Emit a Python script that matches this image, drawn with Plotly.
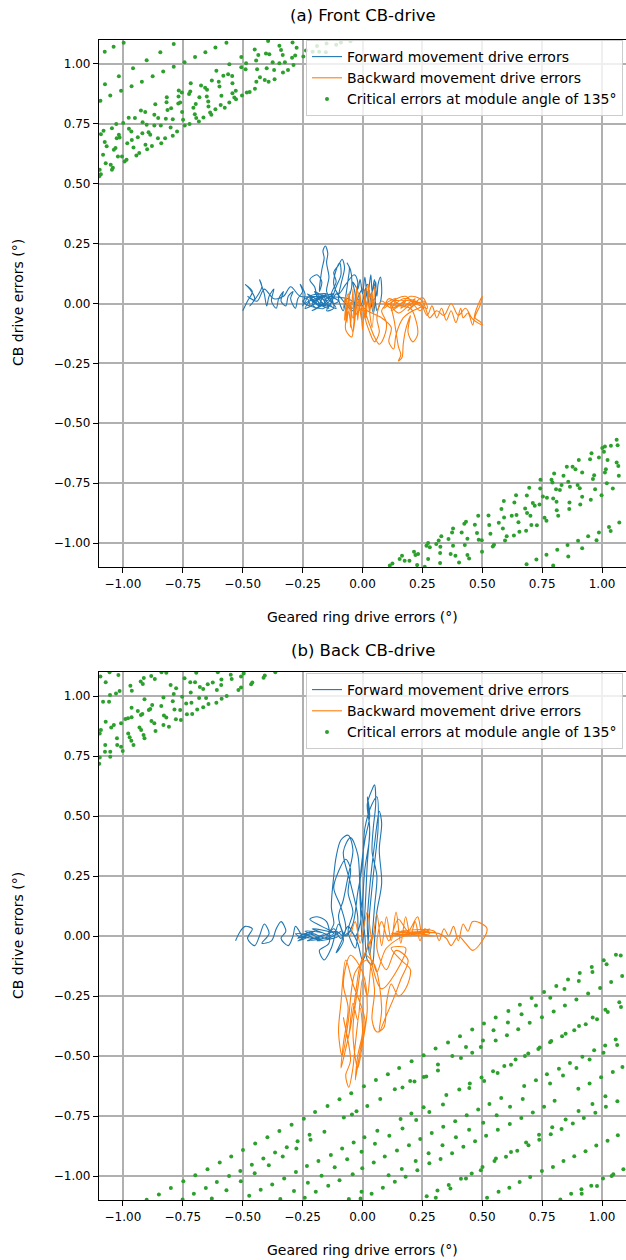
import plotly.graph_objects as go

# ---------------- data ----------------
ticks = [-1.0, -0.75, -0.5, -0.25, 0.0, 0.25, 0.5, 0.75, 1.0]
tick_text = ["\u22121.00", "\u22120.75", "\u22120.50", "\u22120.25", "0.00", "0.25", "0.50", "0.75", "1.00"]

blue_a = [(-0.50,-0.03),(-0.48,0.01),(-0.46,0.05),(-0.49,0.08),(-0.47,0.06),(-0.45,0.02),(-0.47,-0.01),(-0.44,0.03),(-0.42,0.07),(-0.43,0.10),(-0.41,0.04),(-0.40,-0.01),(-0.39,0.03),(-0.37,0.06),(-0.38,0.01),(-0.36,-0.02),(-0.35,0.02),(-0.33,0.05),(-0.34,0.01),(-0.32,-0.01),(-0.31,0.03),(-0.29,0.05),(-0.30,0.02),(-0.28,-0.02),(-0.27,0.02),(-0.25,0.05),(-0.26,0.08),(-0.24,0.04),(-0.25,-0.01),(-0.23,0.02),
(-0.22,-0.01),(-0.25,0.01),(-0.21,0.03),(-0.24,-0.02),(-0.19,0.01),(-0.23,0.04),(-0.18,-0.01),(-0.22,0.02),(-0.17,0.03),(-0.24,0.00),(-0.16,-0.02),(-0.20,0.05),(-0.15,0.01),(-0.21,-0.03),(-0.14,0.02),(-0.19,0.04),(-0.13,-0.01),(-0.18,0.00),(-0.20,0.07),(-0.22,0.10),(-0.19,0.12),(-0.17,0.09),(-0.18,0.05),
(-0.17,0.14),(-0.16,0.19),(-0.165,0.22),(-0.155,0.24),(-0.145,0.21),(-0.15,0.17),(-0.14,0.11),(-0.15,0.05),(-0.13,0.01),(-0.15,-0.03),(-0.12,-0.02),(-0.13,0.04),(-0.11,0.09),(-0.12,0.13),(-0.10,0.16),(-0.085,0.185),(-0.075,0.15),(-0.09,0.08),(-0.10,0.02),(-0.08,-0.03),(-0.07,0.03),(-0.06,0.10),(-0.055,0.15),(-0.065,0.17),(-0.05,0.14),(-0.045,0.07),(-0.06,0.00),(-0.04,-0.02),(-0.03,0.03),(-0.04,0.09),(-0.02,0.06),
(-0.01,0.10),(0.00,0.04),(0.01,0.11),(0.02,0.02),(0.03,0.09),(0.035,0.12),(0.04,0.05),(0.05,0.10),(0.06,0.03),(0.065,0.08),(0.075,0.11),(0.08,0.04),(0.07,-0.01),(0.06,-0.03),(0.05,0.02),(0.03,-0.02),(0.02,0.05),(0.00,-0.01),(-0.02,0.02),(-0.04,-0.03),(-0.08,0.01),(-0.11,0.04),(-0.14,-0.01),(-0.17,0.02),(-0.21,0.00),(-0.19,-0.02),(-0.16,0.03),(-0.12,0.00),
(-0.10,0.01),(-0.14,0.03),(-0.11,-0.02),(-0.16,0.01),(-0.12,0.04),(-0.18,0.02),(-0.14,-0.02),(-0.20,0.01),(-0.15,0.04),(-0.22,0.03),(-0.17,-0.01),(-0.13,0.02),(-0.11,0.07),(-0.09,0.12),(-0.095,0.17),(-0.11,0.14),(-0.12,0.08),(-0.10,0.04),(-0.07,0.08),(-0.035,0.12),(-0.02,0.09),(-0.03,0.00),(0.00,0.06),(0.03,0.03),(0.055,0.09),(0.045,-0.04),(0.02,0.08),(-0.01,-0.01),(-0.06,0.02),(-0.19,0.03),(-0.26,0.03),(-0.30,0.07),(-0.33,0.03),(-0.37,0.02),(-0.41,0.06),(-0.44,0.01),(-0.48,0.03)]

orange_a = [(-0.08,-0.02),(-0.07,0.03),(-0.065,-0.08),(-0.055,0.05),(-0.05,-0.10),(-0.04,0.06),(-0.035,-0.09),(-0.025,0.07),(-0.02,-0.07),(-0.01,0.04),(0.00,-0.11),(0.01,0.06),(0.015,-0.06),(0.025,0.08),(0.03,-0.04),(0.04,0.05),(0.045,-0.03),(0.05,0.07),(0.04,-0.10),(0.02,0.01),(0.00,-0.08),(-0.02,0.02),(-0.04,-0.12),(-0.06,-0.03),(-0.07,-0.11),(-0.045,-0.14),(-0.03,-0.05),
(0.00,-0.02),(0.03,-0.09),(0.05,-0.14),(0.07,-0.17),(0.09,-0.14),(0.10,-0.08),(0.08,-0.03),(0.11,0.00),(0.13,-0.06),(0.14,-0.12),(0.15,-0.18),(0.16,-0.215),(0.15,-0.24),(0.165,-0.225),(0.17,-0.17),(0.18,-0.11),(0.20,-0.05),(0.19,-0.12),(0.21,-0.16),(0.23,-0.13),(0.22,-0.06),(0.20,-0.02),
(0.10,0.00),(0.14,0.02),(0.12,-0.03),(0.18,0.01),(0.16,-0.02),(0.22,0.02),(0.20,-0.01),(0.26,0.01),(0.24,-0.03),(0.18,0.03),(0.12,0.00),(0.15,-0.04),(0.21,0.00),(0.27,-0.02),(0.25,0.025),(0.19,-0.03),(0.23,0.01),(0.17,-0.01),(0.11,0.02),(0.09,-0.02),(0.13,0.01),(0.24,0.00),
(0.27,-0.05),(0.29,-0.01),(0.31,-0.06),(0.33,-0.02),(0.35,-0.07),(0.37,-0.03),(0.39,-0.08),(0.41,-0.02),(0.42,-0.06),(0.44,-0.04),(0.46,-0.09),(0.47,-0.04),(0.485,0.00),(0.50,0.03),(0.49,-0.01),(0.47,-0.06),(0.49,-0.075),(0.50,-0.09),(0.46,-0.065),(0.43,-0.02),(0.40,-0.05),(0.37,0.00),(0.34,-0.05),(0.31,-0.03),(0.28,-0.06),(0.26,-0.01),
(0.24,0.02),(0.20,0.03),(0.16,0.00),(0.12,-0.02),(0.08,0.01),(0.06,-0.06),(0.07,-0.12),(0.05,-0.16),(0.03,-0.12),(0.01,-0.05),(0.03,0.04),(0.045,-0.02),(0.02,0.07),(0.00,-0.03),(-0.02,0.05),(-0.04,-0.06),(-0.06,0.04),(-0.075,-0.07),(-0.06,-0.01),(-0.03,0.01),(0.02,-0.03),(0.08,-0.06),(0.12,-0.10),(0.11,-0.16),(0.13,-0.19),(0.14,-0.13),(0.17,-0.06),(0.21,-0.03),(0.25,-0.01),(0.22,0.01),(0.17,0.02),(0.13,-0.01)]

green_a = [(-0.997,1.089),(-1.039,1.072),(-1.076,1.051),(-0.788,1.083),(-0.844,1.049),(-0.901,1.015),(-0.958,0.982),(-1.017,0.949),(-1.075,0.915),(-1.008,0.888),(-1.053,0.868),(-1.094,0.846),(-0.921,0.926),(-0.964,0.907),(-0.876,0.949),(-0.832,0.968),(-0.788,0.988),(-0.743,1.007),(-0.699,1.029),(-0.656,1.049),(-0.614,1.069),(-0.568,1.089),
(-0.394,1.096),(-0.347,1.076),(-0.340,1.058),(-0.333,1.037),(-0.292,1.090),(-0.275,1.068),(-0.281,1.035),(-0.294,1.026),(-0.288,0.996),(-0.324,1.007),(-0.347,1.003),(-0.375,1.007),(-0.389,1.040),(-0.403,1.044),(-0.435,1.037),(-0.444,1.014),(-0.450,1.060),(-0.486,1.003),(-0.506,0.986),(-0.506,1.029),(-0.488,0.978),(-0.440,0.978),(-0.400,0.982),(-0.369,0.975),(-0.332,0.964),(-0.311,0.975),(-0.367,0.936),(-0.392,0.926),(-0.408,0.933),(-0.428,0.944),(-0.443,0.926),(-0.449,0.896),(-0.471,0.883),(-0.483,0.881),(-0.503,0.868),(-0.528,0.853),(-0.535,0.860),(-0.543,0.878),(-0.529,0.888),(-0.543,0.919),(-0.544,0.950),(-0.561,0.957),(-0.556,0.999),(-0.581,0.951),(-0.600,0.926),(-0.610,0.972),(-0.629,0.931),(-0.597,0.906),(-0.589,0.867),(-0.592,0.829),(-0.575,0.817),(-0.556,0.839),(-0.614,0.811),(-0.636,0.797),(-0.631,0.788),(-0.643,0.822),(-0.644,0.843),(-0.650,0.864),(-0.649,0.892),(-0.657,0.901),(-0.674,0.910),(-0.681,0.861),(-0.696,0.833),(-0.706,0.817),(-0.700,0.790),(-0.719,0.885),(-0.724,0.875),(-0.717,0.919),(-0.754,0.881),(-0.767,0.889),(-0.768,0.864),(-0.761,0.839),(-0.753,0.799),(-0.749,0.767),(-0.742,0.743),(-0.722,0.749),(-0.694,0.774),(-0.683,0.760),(-0.664,0.776),(-0.769,0.835),(-0.799,0.815),(-0.792,0.769),(-0.817,0.861),(-0.818,0.840),(-0.814,0.808),(-0.821,0.771),(-0.801,0.735),(-0.792,0.700),(-0.774,0.718),(-0.865,0.832),(-0.869,0.788),(-0.853,0.774),(-0.907,0.799),(-0.925,0.806),(-0.918,0.757),(-0.901,0.746),(-0.869,0.743),(-0.842,0.743),(-0.886,0.704),(-0.854,0.690),(-0.824,0.690),(-0.840,0.669),(-0.893,0.715),(-0.919,0.711),(-0.938,0.694),(-0.950,0.774),(-0.976,0.775),(-0.999,0.753),(-1.028,0.749),(-1.046,0.732),(-1.081,0.721),(-1.092,0.707),(-1.014,0.693),(-0.965,0.718),(-0.975,0.729),(-0.963,0.683),(-0.982,0.669),(-1.017,0.704),(-1.026,0.690),(-1.076,0.674),(-1.068,0.656),(-1.031,0.649),(-1.038,0.642),(-1.004,0.614),(-0.993,0.593),(-0.985,0.600),(-0.956,0.651),(-0.944,0.618),(-0.932,0.628),(-0.906,0.663),(-0.899,0.644),(-0.879,0.658),(-1.083,0.621),(-1.072,0.585),(-1.051,0.579),(-1.042,0.567),(-1.046,0.558),(-1.097,0.558),(-1.092,0.540),(-1.099,0.531),(-1.021,0.614),
(-0.247,1.031),(-0.236,1.056),(-0.208,1.051),(-0.181,1.051),(-0.153,1.049),(-0.19,1.075),(-0.15,1.085),(-0.11,1.08),(-0.09,1.09),(-0.05,1.095),
(1.061,-0.569),(1.065,-0.592),(1.037,-0.594),(1.012,-0.597),(1.008,-0.619),(1.001,-0.603),(0.956,-0.625),(0.950,-0.650),(0.987,-0.643),(1.023,-0.653),(1.061,-0.664),(1.068,-0.678),(1.070,-0.719),(1.045,-0.772),(1.020,-0.750),(1.012,-0.706),(1.016,-0.692),(0.967,-0.717),(0.962,-0.733),(0.917,-0.706),(0.903,-0.653),(0.889,-0.692),(0.877,-0.681),(0.853,-0.681),(0.839,-0.719),(0.859,-0.744),(0.831,-0.758),(0.866,-0.765),(0.898,-0.758),(0.907,-0.771),(0.917,-0.807),(0.909,-0.839),(0.953,-0.819),(0.971,-0.775),(0.998,-0.800),(0.864,-0.831),(0.863,-0.858),(0.824,-0.779),(0.808,-0.775),(0.793,-0.747),(0.789,-0.736),(0.800,-0.710),(0.743,-0.736),(0.742,-0.772),(0.753,-0.806),(0.770,-0.811),(0.796,-0.814),(0.810,-0.828),(0.811,-0.863),(0.817,-0.886),(0.739,-0.839),(0.711,-0.833),(0.696,-0.769),(0.686,-0.801),(0.679,-0.856),(0.687,-0.875),(0.701,-0.886),(0.719,-0.844),(0.705,-0.925),(0.728,-0.926),(0.768,-0.907),(0.760,-0.894),(0.683,-0.949),(0.655,-0.953),(0.632,-0.969),(0.651,-0.913),(0.643,-0.883),(0.623,-0.886),(0.634,-0.831),(0.641,-0.800),(0.590,-0.824),(0.580,-0.858),(0.591,-0.893),(0.569,-0.915),(0.586,-0.939),(0.602,-0.972),(0.595,-0.989),(0.549,-1.007),(0.544,-1.014),(0.534,-0.961),(0.529,-0.925),(0.526,-0.885),(0.483,-0.886),(0.469,-0.924),(0.478,-0.958),(0.485,-0.986),(0.498,-0.988),(0.499,-1.036),(0.445,-1.064),(0.438,-1.050),(0.427,-1.008),(0.438,-0.982),(0.414,-0.956),(0.425,-0.919),(0.432,-0.911),(0.378,-0.939),(0.374,-0.956),(0.359,-0.983),(0.378,-1.011),(0.388,-1.053),(0.368,-1.046),(0.403,-1.081),(0.329,-0.972),(0.318,-0.989),(0.325,-1.015),(0.308,-1.004),(0.274,-1.000),(0.267,-1.011),(0.281,-1.018),(0.274,-1.067),(0.260,-1.099),(0.232,-1.046),(0.221,-1.050),(0.228,-1.092),(0.215,-1.036),(0.196,-1.074),(0.176,-1.074),(0.165,-1.053),(0.155,-1.067),(0.125,-1.085),(0.114,-1.094),(0.324,-1.042),(0.324,-1.083),
(0.685,-1.088),(0.726,-1.069),(0.768,-1.049),(0.813,-1.028),(0.856,-1.008),(0.859,-1.056),(0.900,-0.990),(0.917,-1.022),(0.942,-0.972),(0.977,-0.988),(0.987,-0.956),(1.029,-0.933),(1.036,-0.950),(1.072,-0.914),(0.796,-1.094)]

blue_b = [(-0.53,-0.02),(-0.51,0.02),(-0.49,0.04),(-0.46,0.03),(-0.48,-0.01),(-0.45,-0.04),(-0.43,0.00),(-0.41,0.05),(-0.39,0.01),(-0.42,-0.03),(-0.38,-0.02),(-0.36,0.03),(-0.34,0.06),(-0.32,0.02),(-0.34,-0.01),(-0.31,-0.04),(-0.29,0.00),(-0.28,0.04),
(-0.25,-0.01),(-0.28,0.01),(-0.22,0.00),(-0.27,-0.02),(-0.20,0.02),(-0.26,0.00),(-0.18,-0.01),(-0.24,0.02),(-0.16,0.01),(-0.23,-0.02),(-0.14,0.00),(-0.21,0.03),(-0.12,0.01),(-0.19,-0.02),(-0.10,0.00),(-0.17,0.04),(-0.22,0.07),(-0.19,0.08),(-0.15,0.06),(-0.14,-0.03),(-0.18,-0.06),(-0.16,-0.10),(-0.13,-0.05),(-0.10,0.05),(-0.08,-0.02),(-0.11,-0.07),
(-0.07,0.03),(-0.09,0.12),(-0.12,0.20),(-0.10,0.27),(-0.07,0.32),(-0.05,0.28),(-0.06,0.18),(-0.04,0.10),(-0.06,0.02),(-0.03,-0.05),(-0.02,0.08),(-0.05,0.22),(-0.08,0.35),(-0.05,0.41),(-0.02,0.34),(-0.01,0.15),(0.00,-0.03),(0.01,0.10),(0.02,0.30),(0.03,0.45),(0.02,0.55),(0.04,0.61),(0.05,0.63),(0.055,0.55),(0.045,0.45),(0.04,0.35),(0.06,0.25),(0.05,0.12),(0.04,0.00),(0.03,-0.08),(0.02,0.05),(0.03,0.20),(0.05,0.38),(0.07,0.52),(0.08,0.47),(0.07,0.36),(0.08,0.22),(0.06,0.10),(0.05,-0.02),(0.04,-0.12),(0.02,-0.10),(0.01,0.00),(-0.01,0.22),(0.01,0.40),(0.03,0.50),(0.02,0.58),(0.03,0.42),(0.01,0.28),(-0.01,0.05),(-0.03,0.00),(-0.06,0.04),(-0.09,-0.01),(-0.12,0.03),(-0.15,0.00),
(-0.12,0.05),(-0.13,0.12),(-0.12,0.25),(-0.11,0.33),(-0.09,0.40),(-0.06,0.42),(-0.04,0.36),(-0.06,0.25),(-0.08,0.15),(-0.10,0.08),(-0.07,0.00),(-0.04,0.05),(-0.02,0.18),(0.00,0.30),(0.01,0.45),(0.04,0.55),(0.06,0.58),(0.065,0.45),(0.05,0.30),(0.03,0.10),(0.02,-0.05),(0.00,-0.10),(-0.02,-0.03),(-0.05,0.02),(-0.08,0.00),(-0.11,0.02),(-0.20,-0.01),(-0.24,0.01),(-0.27,-0.01),(-0.21,0.01),(-0.15,-0.01),(-0.09,0.02)]

orange_b = [(-0.05,0.00),(-0.03,0.06),(-0.01,-0.03),(0.02,0.10),(0.04,-0.02),(0.06,0.09),(0.08,-0.04),(0.10,0.08),(0.12,-0.02),(0.14,0.10),(0.16,-0.03),(0.18,0.08),(0.20,0.00),(0.22,0.06),(0.24,-0.02),(0.26,0.03),
(0.28,0.01),(0.14,0.02),(0.30,0.00),(0.12,0.01),(0.28,0.02),(0.10,0.00),(0.26,0.01),(0.16,0.02),(0.30,0.02),
(0.32,-0.02),(0.34,0.03),(0.36,0.00),(0.38,0.04),(0.40,-0.02),(0.42,0.05),(0.44,0.02),(0.46,0.06),(0.50,0.05),(0.52,0.03),(0.50,-0.02),(0.46,-0.06),(0.43,-0.03),(0.40,0.00),(0.37,-0.04),(0.35,-0.01),(0.32,0.01),(0.20,0.01),
(0.10,-0.05),(0.06,-0.15),(0.04,-0.10),(0.02,-0.25),(0.00,-0.18),(-0.02,-0.35),(-0.04,-0.28),(-0.06,-0.42),(-0.08,-0.34),(-0.05,-0.52),(-0.07,-0.58),(-0.057,-0.63),(-0.04,-0.55),(-0.03,-0.45),(-0.01,-0.30),(0.00,-0.40),(-0.02,-0.50),(-0.03,-0.60),(-0.01,-0.48),(0.01,-0.35),(-0.04,-0.20),(-0.07,-0.10),(-0.09,-0.28),(-0.10,-0.40),(-0.085,-0.50),(-0.06,-0.36),(-0.03,-0.15),
(0.02,-0.10),(0.05,-0.22),(0.04,-0.35),(0.06,-0.40),(0.09,-0.38),(0.10,-0.28),(0.12,-0.20),(0.15,-0.25),(0.18,-0.22),(0.20,-0.14),(0.16,-0.10),(0.12,-0.05),(0.18,-0.05),(0.14,-0.15),(0.08,-0.22),(0.03,-0.05),
(0.05,0.02),(0.02,-0.05),(-0.01,-0.12),(-0.03,-0.25),(-0.05,-0.38),(-0.07,-0.47),(-0.09,-0.55),(-0.08,-0.45),(-0.06,-0.30),(-0.08,-0.20),(-0.05,-0.08),(0.00,-0.15),(0.02,-0.30),(0.00,-0.45),(-0.02,-0.55),(-0.04,-0.40),(-0.02,-0.22),(0.01,-0.08),(0.05,-0.12),(0.08,-0.30),(0.07,-0.40),(0.10,-0.33),(0.13,-0.26),(0.16,-0.18),(0.19,-0.10),(0.14,-0.06),(0.10,-0.14),(0.06,-0.05),(0.08,0.06),(0.11,-0.02),(0.15,0.07),(0.19,0.02),(0.23,0.08),(0.25,0.01),(0.28,0.03),(0.22,0.01),(0.18,0.00),(0.14,0.01)]

green_b = [(-1.094,1.081),(-1.056,1.099),(-1.019,1.088),(-1.072,1.057),(-1.054,1.004),(-1.058,0.976),(-1.083,0.976),(-1.029,1.010),(-1.014,1.021),(-1.097,0.844),(-1.092,0.858),(-1.072,0.893),(-1.049,0.869),(-1.038,0.879),(-1.008,0.886),(-0.990,0.904),(-0.979,0.907),(-0.964,0.911),(-0.964,0.951),(-0.969,1.043),(-0.963,1.022),(-0.926,1.060),(-0.917,1.050),(-0.913,1.075),(-0.882,1.083),(-0.867,1.071),(-0.839,1.099),(-0.819,1.097),(-0.801,1.046),(-0.788,1.008),(-0.792,0.978),(-0.831,0.994),(-0.840,0.958),(-0.878,0.963),(-0.886,0.946),(-0.910,0.986),(-0.919,0.925),(-0.938,0.938),(-0.925,0.921),(-0.892,0.942),(-0.881,0.896),(-0.869,0.886),(-0.864,0.854),(-0.914,0.838),(-0.910,0.824),(-0.924,0.858),(-0.931,0.869),(-0.978,0.844),(-0.972,0.828),(-0.965,0.814),(-0.956,0.796),(-1.025,0.824),(-1.024,0.796),(-1.008,0.789),(-1.001,0.771),(-1.074,0.796),(-1.075,0.768),(-1.053,0.768),(-1.053,0.747),(-1.097,0.744),(-1.099,0.718),(-0.743,1.074),(-0.719,1.057),(-0.717,1.015),(-0.699,1.057),(-0.679,1.038),(-0.682,0.992),(-0.653,0.992),(-0.665,1.029),(-0.646,1.049),(-0.625,1.056),(-0.608,1.025),(-0.590,1.046),(-0.589,1.069),(-0.550,1.089),(-0.546,1.071),(-0.507,1.081),(-0.496,1.094),(-0.460,1.056),(-0.465,1.049),(-0.413,1.076),(-0.408,1.085),(-0.364,1.099),(-0.518,1.025),(-0.507,1.035),(-0.567,1.000),(-0.588,0.989),(-0.610,0.972),(-0.643,0.967),(-0.665,0.953),(-0.690,0.944),(-0.711,0.925),(-0.733,0.924),(-0.758,0.900),(-0.779,0.903),(-0.761,0.942),(-0.785,0.944),(-0.829,0.919),(-0.819,0.910),(-0.831,0.879),(-0.808,0.872),(-0.753,0.997),(-0.736,0.969),(-0.714,0.972),(-0.778,1.032),(-0.694,1.097),(-0.604,1.099),
(1.058,-0.078),(1.078,-0.081),(1.007,-0.101),(1.019,-0.118),(0.957,-0.129),(0.960,-0.150),(0.907,-0.154),(0.858,-0.181),(0.903,-0.188),(0.809,-0.208),(0.843,-0.221),(1.084,-0.167),(1.038,-0.192),(0.992,-0.217),(0.942,-0.240),(0.893,-0.265),(0.845,-0.290),(0.798,-0.315),(0.758,-0.233),(0.784,-0.257),(0.706,-0.258),(0.724,-0.290),(0.657,-0.286),(0.609,-0.312),(0.664,-0.326),(0.556,-0.340),(0.607,-0.360),(0.749,-0.339),(0.698,-0.361),(0.650,-0.389),(0.507,-0.365),(0.547,-0.393),(0.458,-0.390),(0.603,-0.414),(0.556,-0.435),(0.503,-0.435),(0.494,-0.463),(0.407,-0.418),(0.432,-0.463),(0.357,-0.444),(0.458,-0.486),(0.411,-0.508),(0.375,-0.500),(0.305,-0.469),(0.255,-0.497),(0.205,-0.522),(0.153,-0.550),(0.106,-0.576),(0.056,-0.600),(0.006,-0.626),(0.199,-0.604),(0.217,-0.606),(0.167,-0.631),(0.135,-0.639),(0.256,-0.588),(0.266,-0.585),(0.315,-0.535),(0.315,-0.560),(0.404,-0.640),(0.448,-0.615),(0.446,-0.633),(0.497,-0.590),(0.508,-0.604),(0.545,-0.564),(0.564,-0.571),(0.592,-0.542),(0.620,-0.536),(0.639,-0.515),(0.678,-0.500),(0.692,-0.490),(0.734,-0.471),(0.740,-0.465),(0.783,-0.443),(0.788,-0.438),(0.833,-0.418),(0.848,-0.407),(0.884,-0.393),(0.904,-0.375),(0.932,-0.368),(0.961,-0.340),(0.979,-0.347),(1.014,-0.307),(1.024,-0.317),(1.072,-0.276),(1.079,-0.296),(1.057,-0.431),(1.063,-0.454),(1.013,-0.456),(1.006,-0.486),(0.967,-0.476),(0.948,-0.515),(0.918,-0.503),(0.893,-0.550),(0.866,-0.529),(0.820,-0.553),(0.837,-0.581),(0.770,-0.576),(0.783,-0.615),(0.724,-0.601),(0.675,-0.625),(0.901,-0.636),(0.948,-0.615),(0.996,-0.589),(1.045,-0.567),(1.085,-0.546),
(-0.901,-1.099),(-0.850,-1.077),(-0.800,-1.050),(-0.748,-1.022),(-0.751,-1.098),(-0.698,-0.997),(-0.704,-1.074),(-0.654,-1.050),(-0.647,-0.972),(-0.629,-1.094),(-0.608,-1.025),(-0.596,-0.944),(-0.568,-1.059),(-0.557,-1.000),(-0.548,-0.919),(-0.510,-0.979),(-0.508,-1.022),(-0.499,-0.892),(-0.473,-1.082),(-0.462,-0.953),(-0.450,-0.989),(-0.448,-0.865),(-0.425,-1.057),(-0.414,-0.927),(-0.391,-0.955),(-0.397,-0.839),(-0.377,-1.035),(-0.365,-0.902),(-0.347,-0.813),(-0.343,-1.096),(-0.333,-0.919),(-0.327,-1.010),(-0.316,-0.880),(-0.296,-0.786),(-0.286,-1.063),(-0.278,-0.983),(-0.276,-0.885),(-0.271,-0.855),(-0.245,-0.761),(-0.241,-1.091),(-0.232,-0.958),(-0.228,-1.028),(-0.221,-0.828),(-0.217,-0.849),(-0.198,-0.733),(-0.195,-1.066),(-0.184,-0.937),(-0.171,-0.999),(-0.159,-0.816),(-0.146,-0.708),(-0.143,-1.041),(-0.132,-0.912),(-0.116,-0.964),(-0.096,-0.680),(-0.096,-1.018),(-0.085,-0.885),(-0.078,-0.756),(-0.064,-0.930),(-0.047,-0.655),(-0.044,-0.744),(-0.041,-0.993),(-0.037,-0.860),(-0.057,-1.096),(-0.008,-1.094),(-0.004,-1.066),(-0.001,-0.968),(-0.004,-0.899),(0.008,-0.839),(0.020,-0.708),(-0.025,-0.730),(0.038,-1.074),(0.047,-0.944),(0.052,-0.866),(0.062,-0.811),(0.074,-0.679),(0.085,-1.049),(0.093,-0.919),(0.109,-0.997),(0.112,-0.832),(0.135,-1.024),(0.144,-0.894),(0.159,-0.763),(0.164,-0.971),(0.167,-0.802),(0.180,-1.003),(0.194,-0.872),(0.204,-0.740),(0.222,-0.937),(0.224,-0.767),(0.229,-0.976),(0.241,-0.846),(0.268,-1.084),(0.279,-0.947),(0.279,-0.733),(0.289,-0.821),(0.255,-0.714),(0.276,-0.905),(0.306,-1.091),(0.313,-1.060),(0.326,-0.929),(0.334,-0.872),(0.337,-0.795),(0.336,-0.702),(0.350,-0.663),(0.360,-1.038),(0.367,-1.052),(0.374,-0.905),(0.390,-0.839),(0.387,-0.772),(0.411,-1.011),(0.421,-0.878),(0.432,-1.010),(0.435,-0.747),(0.445,-0.807),(0.456,-0.990),(0.470,-0.855),(0.483,-0.723),(0.494,-0.976),(0.501,-0.962),(0.504,-0.778),(0.516,-0.832),(0.520,-1.091),(0.530,-0.700),(0.551,-0.937),(0.557,-0.927),(0.560,-0.747),(0.565,-0.807),(0.568,-1.066),(0.579,-0.675),(0.599,-0.920),(0.615,-0.783),(0.616,-0.711),(0.620,-0.900),(0.646,-0.895),(0.613,-1.049),(0.656,-1.025),(0.663,-0.758),(0.669,-0.679),(0.683,-0.860),(0.693,-0.872),(0.700,-1.004),(0.711,-0.735),(0.737,-0.828),(0.738,-0.849),(0.749,-0.979),(0.758,-0.711),(0.786,-0.826),(0.792,-0.797),(0.795,-0.962),(0.802,-0.686),(0.826,-1.098),(0.831,-0.804),(0.839,-0.938),(0.848,-0.765),(0.871,-1.074),(0.878,-0.781),(0.884,-0.918),(0.902,-0.729),(0.914,-1.055),(0.915,-1.074),(0.924,-0.758),(0.931,-0.897),(0.955,-1.041),(0.960,-0.700),(0.972,-0.736),(0.976,-0.873),(0.979,-1.042),(1.004,-1.010),(1.023,-0.853),(1.016,-0.711),(1.014,-0.668),(1.040,-1.000),(1.047,-0.993),(1.064,-0.689),(1.066,-0.830),(1.089,-0.972)]

names = ["Forward movement drive errors", "Backward movement drive errors",
         "Critical errors at module angle of 135\u00b0"]
titles = ["(a) Front CB-drive", "(b) Back CB-drive"]
xlabel = "Geared ring drive errors (\u00b0)"
ylabel = "CB drive errors (\u00b0)"

BLUE, ORANGE, GREEN = "#1f77b4", "#ff7f0e", "#2ca02c"

# ---------------- figure ----------------
W, H = 626, 1260
ML = 99


def py(p):
    return 1 - p / H


def px(p):
    return (p - ML) / (W - ML)


fig = go.Figure()
panels = [
    (blue_a, orange_a, green_a, "x", "y", "legend"),
    (blue_b, orange_b, green_b, "x2", "y2", "legend2"),
]
for blue, orange, green, xa, ya, lg in panels:
    for data, col, nm in ((blue, BLUE, names[0]), (orange, ORANGE, names[1])):
        fig.add_trace(go.Scatter(
            x=[p[0] for p in data], y=[p[1] for p in data], mode="lines",
            line=dict(color=col, width=1.1, shape="spline", smoothing=0.9),
            name=nm, xaxis=xa, yaxis=ya, legend=lg))
    fig.add_trace(go.Scatter(
        x=[p[0] for p in green], y=[p[1] for p in green], mode="markers",
        marker=dict(color=GREEN, size=4), name=names[2],
        xaxis=xa, yaxis=ya, legend=lg))

axis_style = dict(
    range=[-1.1, 1.1], tickmode="array", tickvals=ticks, ticktext=tick_text,
    showgrid=True, gridcolor="#b0b0b0", gridwidth=1.5, zeroline=False,
    showline=True, linecolor="black", linewidth=1.2, mirror=True,
    ticks="outside", ticklen=5, tickwidth=1.2, tickcolor="black",
    tickfont=dict(size=12, color="black"),
)

legend_style = dict(xanchor="right", yanchor="top",
                    bgcolor="rgba(255,255,255,0.8)", bordercolor="#cccccc",
                    borderwidth=1, font=dict(size=14), itemwidth=30)

fig.update_layout(
    width=W, height=H,
    margin=dict(l=ML, r=0, t=0, b=0),
    paper_bgcolor="white", plot_bgcolor="white",
    font=dict(family="DejaVu Sans", size=12, color="black"),
    xaxis=dict(domain=[0, 1], anchor="y", **axis_style),
    yaxis=dict(domain=[py(567), py(40)], anchor="x", **axis_style),
    xaxis2=dict(domain=[0, 1], anchor="y2", **axis_style),
    yaxis2=dict(domain=[py(1200), py(672)], anchor="x2", **axis_style),
    legend=dict(x=px(623), y=py(40), **legend_style),
    legend2=dict(x=px(623), y=py(673), **legend_style),
    showlegend=True,
)

ann = []
for t, ty in zip(titles, (16, 650)):
    ann.append(dict(text=t, x=0.5, y=py(ty), xref="paper", yref="paper",
                    xanchor="center", yanchor="middle", showarrow=False,
                    font=dict(size=16.5)))
for ly in (617, 1250):
    ann.append(dict(text=xlabel, x=0.5, y=py(ly), xref="paper", yref="paper",
                    xanchor="center", yanchor="middle", showarrow=False,
                    font=dict(size=14)))
for cy in (303, 936):
    ann.append(dict(text=ylabel, x=px(18), y=py(cy), xref="paper", yref="paper",
                    xanchor="center", yanchor="middle", showarrow=False,
                    textangle=-90, font=dict(size=14)))
fig.update_layout(annotations=ann)

fig.write_html("out.html")
